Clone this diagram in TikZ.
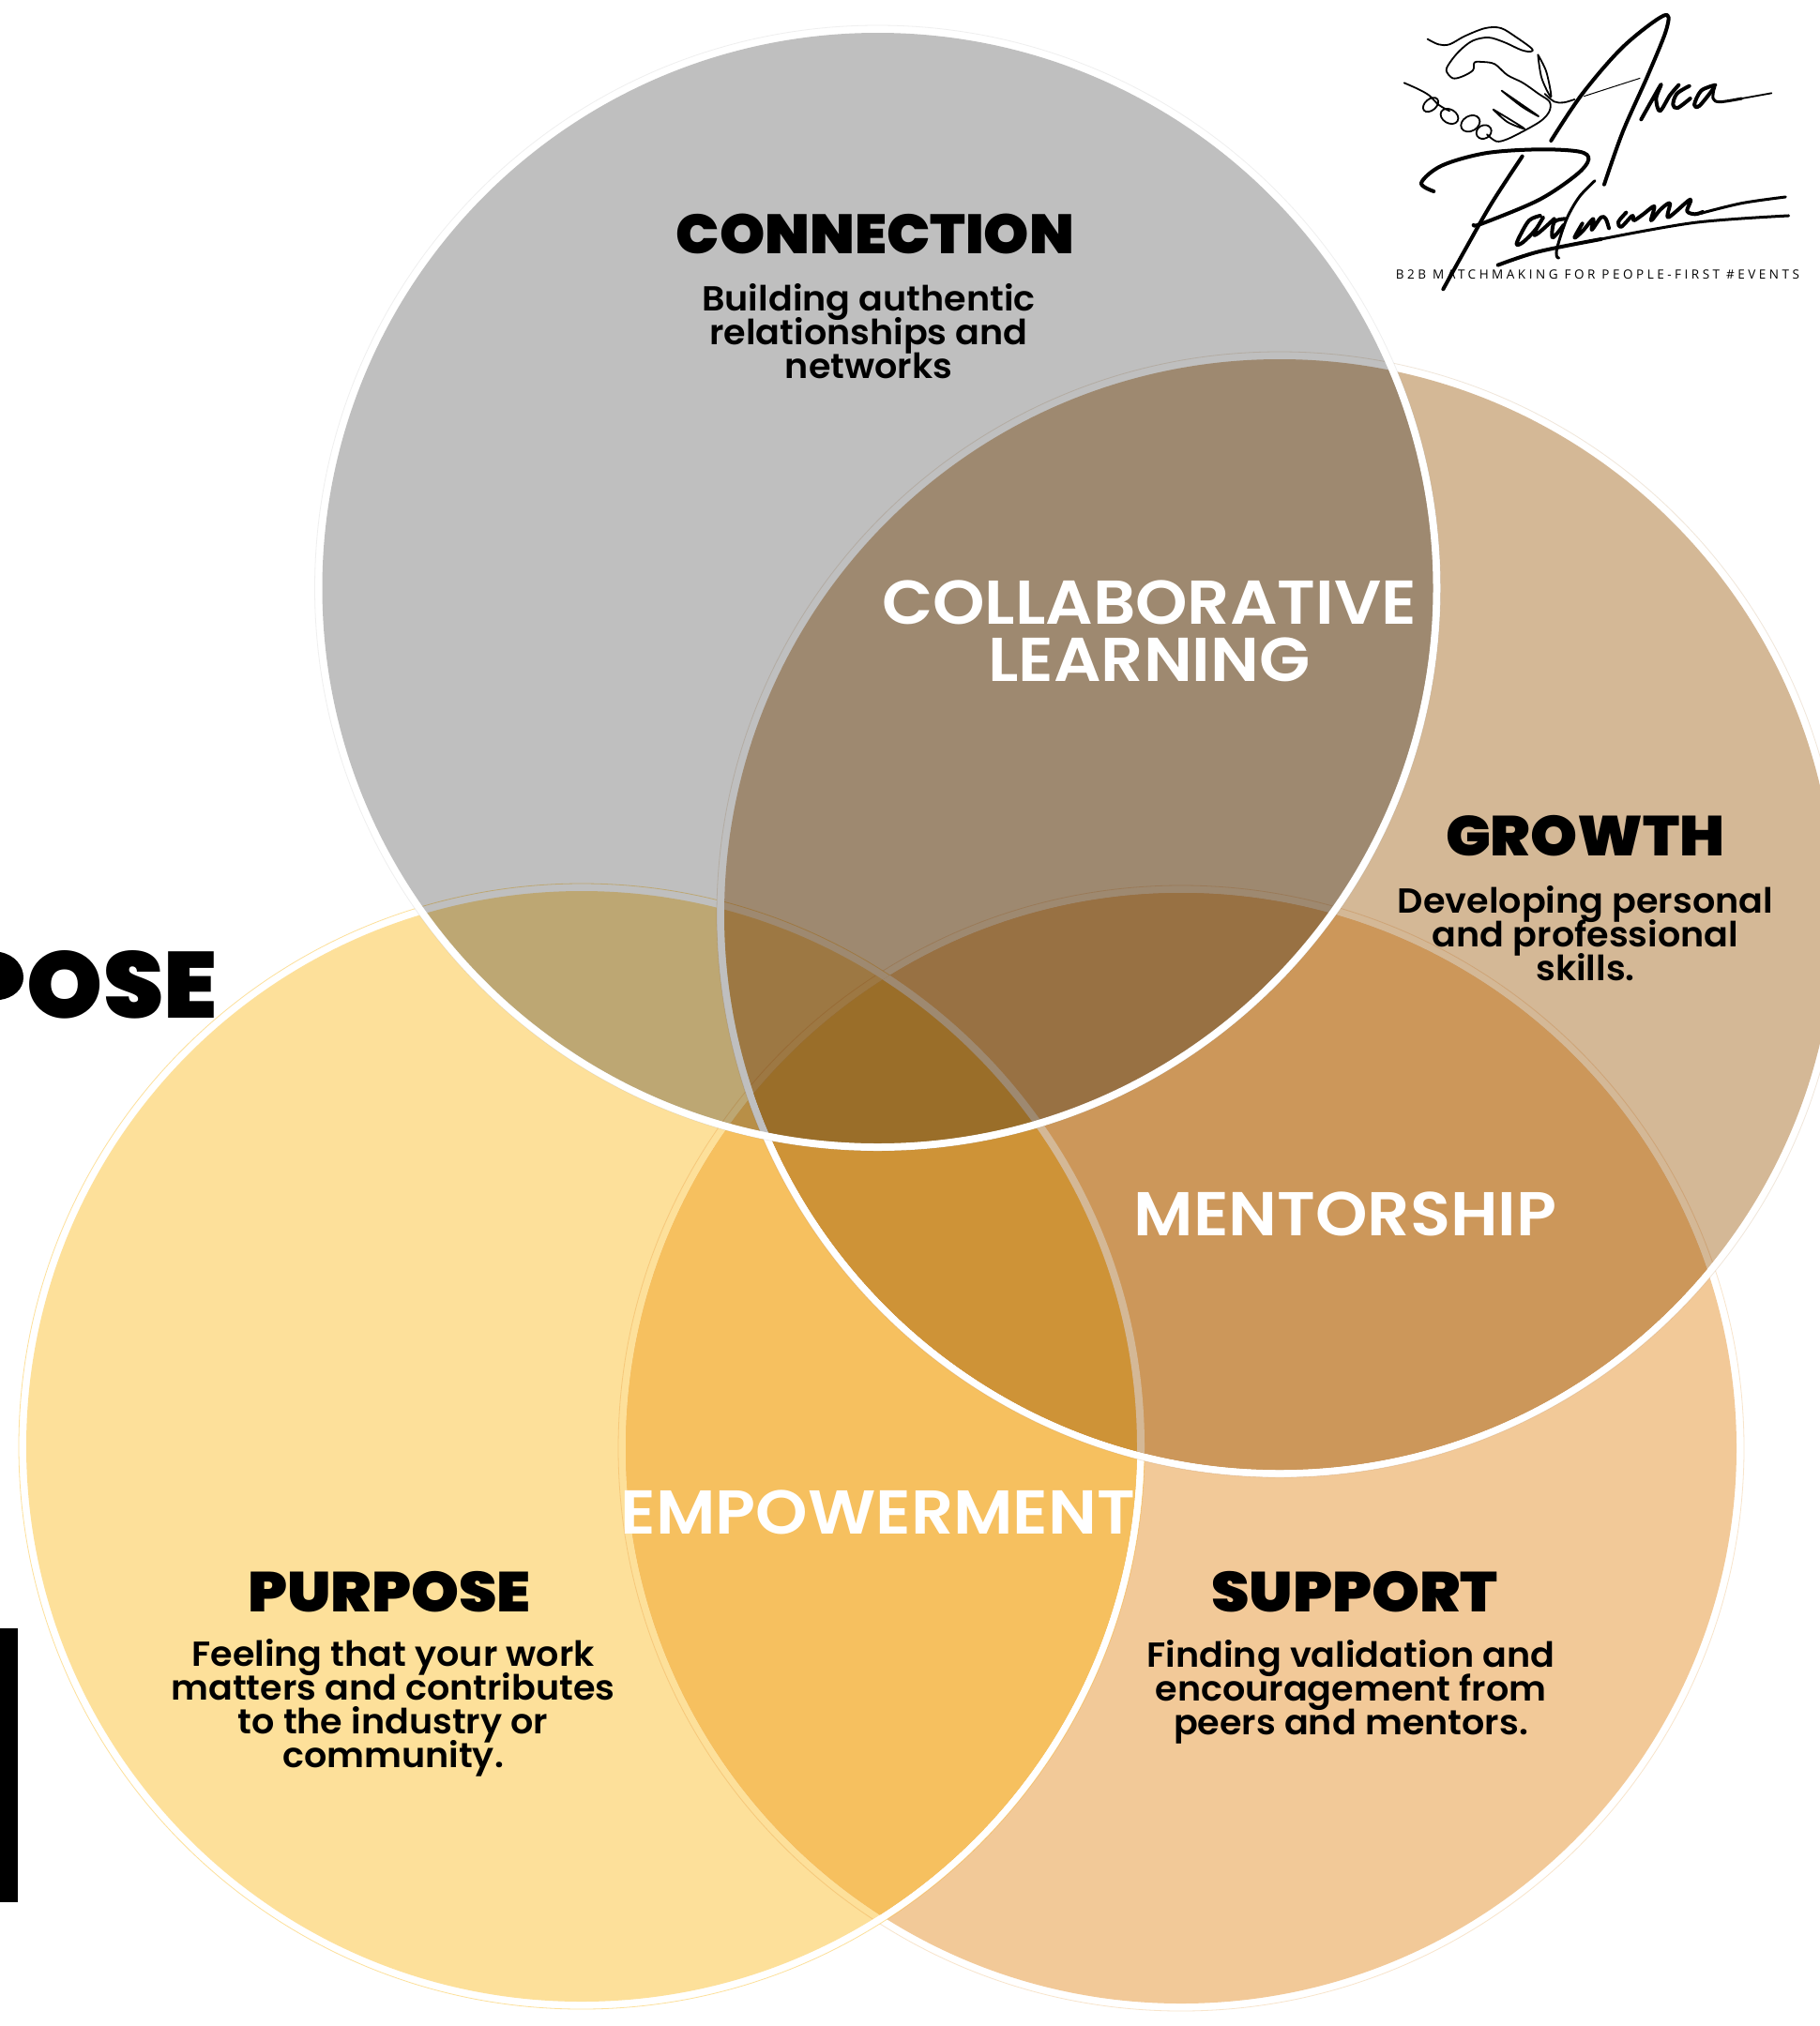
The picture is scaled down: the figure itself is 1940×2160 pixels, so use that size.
\documentclass[tikz,border=0pt]{standalone}
\usepackage{fontspec}
\setmainfont{Poppins}
\lineskiplimit=-50pt\relax
\newfontfamily\fblack[FakeStretch=1.03]{Poppins Black}
\newfontfamily\fblackn[FakeStretch=1.04]{Poppins Black}
\newfontfamily\fblackw[FakeStretch=1.06]{Poppins Black}
\newfontfamily\fblackx[FakeStretch=1.08]{Poppins Black}
\newfontfamily\fsemi[FakeStretch=1.03]{Poppins SemiBold}
\newfontfamily\fover[FakeStretch=1.07]{Poppins SemiBold}
\newfontfamily\ftag[LetterSpace=26]{Open Sans}
\definecolor{cgray}{HTML}{BFBFBF}
\definecolor{ctan}{HTML}{D4B896}
\definecolor{cyel}{HTML}{FDE09A}
\definecolor{corg}{HTML}{F2C998}
\definecolor{cmix}{HTML}{F6C05F}
\definecolor{cmixb}{HTML}{CC975A}
\definecolor{cmixc}{HTML}{CE9337}
\tikzset{
 ringline/.style={white,line width=8pt},
 thinline/.style={line width=.8pt,blend mode=multiply},
 discfill/.style={blend mode=multiply},
 headtxt/.style={font=\fblackw\fontsize{60}{60}\selectfont,text=black,inner sep=0pt,align=center},
 bodytxt/.style={font=\fsemi\fontsize{37}{36}\selectfont,text=black,inner sep=0pt,align=center},
 overtxt/.style={font=\fover\fontsize{66}{61}\selectfont,text=white,inner sep=0pt,align=center},
 sigthick/.style={line width=4pt,line cap=round,line join=round,black},
 sigmid/.style={line width=3pt,line cap=round,line join=round,black},
 sigthin/.style={line width=1.8pt,line cap=round,line join=round,black},
}
\newcommand{\vdisc}[4]{%
 \draw[ringline] (#1,#2) circle[radius=596];
 \draw[thinline,draw=#4] (#1,#2) circle[radius=600];
 \fill[discfill,fill=#3] (#1,#2) circle[radius=592];
}
\newcommand{\sig}[2]{\draw[#1] plot[smooth,tension=.55] coordinates {#2};}
\begin{document}
\begin{tikzpicture}[x=1pt,y=-1pt]
\useasboundingbox (0,0) rectangle (1940,2160);
\fill[white] (0,0) rectangle (1940,2160);
\begin{scope}
\clip (0,0) rectangle (1940,2160);
\vdisc{1259}{1544}{corg}{corg!50}
\vdisc{620}{1542}{cyel}{cyel}
\begin{scope}
\clip (1259,1544) circle[radius=592];
\fill[cmix] (620,1542) circle[radius=592];
\end{scope}
\vdisc{1364}{975}{ctan}{ctan!35}
\begin{scope}
\clip (1259,1544) circle[radius=592];
\clip (1364,975) circle[radius=592];
\fill[cmixb] (600,300) rectangle (1940,1600);
\fill[cmixc] (620,1542) circle[radius=592];
\draw[ctan,line width=8pt] (620,1542) circle[radius=596];
\end{scope}
\vdisc{935.5}{627}{cgray}{cgray!25}
\fill[black] (0,1015) .. controls (16,1018) and (25,1030) .. (25,1042) .. controls (25,1055) and (14,1064) .. (0,1066) -- cycle;
\fill[black] (0,1736) rectangle (19,2028);
\end{scope}
\node[headtxt,anchor=east,font=\fblack\fontsize{100}{100}\selectfont] (pose) at (232,1050) {OSE};
\node[headtxt,font=\fblackn\fontsize{59}{60}\selectfont] (conn) at (933,249) {CONNECTION};
\node[bodytxt] (connb) at (926,353) {Building authentic\\relationships and\\networks};
\node[overtxt] (collab) at (1225,673) {COLLABORATIVE\\LEARNING};
\node[headtxt] (grow) at (1690,891) {GROWTH};
\node[bodytxt] (growb) at (1690,995) {Developing personal\\and professional\\skills.};
\node[overtxt] (ment) at (1434,1294) {MENTORSHIP};
\node[overtxt] (empo) at (936,1612) {EMPOWERMENT};
\node[headtxt,font=\fblackx\fontsize{60}{60}\selectfont] (purp) at (415,1697) {PURPOSE};
\node[bodytxt] (purpb) at (419,1821) {Feeling that your work\\matters and contributes\\to the industry or\\community.};
\node[headtxt,font=\fblackx\fontsize{60}{60}\selectfont] (supp) at (1444,1697) {SUPPORT};
\node[bodytxt] (suppb) at (1440,1804) {Finding validation and\\encouragement from\\peers and mentors.};
\node[inner sep=0pt,font=\ftag\fontsize{13.5}{15}\selectfont] (tag) at (1703,293) {B2B MATCHMAKING FOR PEOPLE-FIRST \#EVENTS};
% handshake
\begin{scope}[shift={(1490,20)},x=.3333pt,y=-.3333pt]
\sig{sigthin}{(95,65)(130,82)(165,82)(215,55)(280,30)(330,30)(380,60)(428,95)(425,105)(395,100)(340,75)(290,60)(240,70)(200,100)(170,135)(155,165)(175,190)(205,185)(240,165)(245,140)(270,138)(310,145)(350,180)(400,205)(450,240)(485,265)(485,295)(460,325)(410,355)(350,385)(315,392)(285,370)}
\sig{sigthin}{(20,205)(65,225)(100,245)(130,275)(165,295)}
\draw[sigthin,rotate around={40:(105,275)}] (105,275) ellipse[x radius=28,y radius=18];
\draw[sigthin,rotate around={-30:(165,312)}] (165,312) ellipse[x radius=30,y radius=22];
\draw[sigthin,rotate around={30:(232,335)}] (232,335) ellipse[x radius=32,y radius=24];
\draw[sigthin,rotate around={30:(275,362)}] (275,362) ellipse[x radius=25,y radius=21];
\sig{sigthin}{(332,230)(390,270)(450,312)(395,280)(332,230)}
\sig{sigthin}{(305,290)(355,320)(405,352)(350,330)(305,290)}
\sig{sigthin}{(448,115)(475,170)(490,250)(460,190)(448,115)}
\sig{sigthin}{(470,240)(500,265)(530,268)(565,258)}
\end{scope}
% Anca
\begin{scope}[shift={(1440,0)},x=.3333pt,y=-.3333pt]
\draw[line width=1pt,black] (745,308) -- (925,250);
\sig{sigthick}{(640,450)(740,300)(870,150)(1000,50)(1010,90)(950,240)(870,420)(810,590)}
\end{scope}
\begin{scope}[shift={(1730,70)},x=.3333pt,y=-.3333pt]
\sig{sigthick}{(58,172)(90,115)(122,60)(106,105)(118,145)(150,95)(178,62)}
\sig{sigthick}{(212,65)(172,90)(160,125)(175,135)(215,105)}
\sig{sigthick}{(295,62)(250,80)(228,125)(245,128)(292,70)}
\sig{sigmid}{(292,70)(288,105)(310,116)(380,105)}
\sig{sigthin}{(380,105)(475,88)}
\end{scope}
% Paduraru
\begin{scope}[shift={(1440,0)},x=.3333pt,y=-.3333pt]
\sig{sigthick}{(265,612)(225,585)(290,530)(430,490)(600,478)(730,485)(760,510)(720,560)(600,640)(420,715)(392,720)}
\sig{sigthick}{(548,500)(450,650)(370,790)(295,925)}
\sig{sigmid}{(1120,682)(1250,650)(1390,630)}
\sig{sigthick}{(470,848)(600,805)(800,765)}
\sig{sigmid}{(800,765)(1100,712)(1400,690)}
\end{scope}
\begin{scope}[shift={(1600,190)},x=.3333pt,y=-.3333pt]
\sig{sigthick}{(125,120)(90,135)(60,185)(50,212)(70,205)(110,165)(135,125)(105,178)(120,175)(170,130)}
\sig{sigmid}{(300,8)(250,60)(210,130)(180,220)(178,250)(185,255)}
\sig{sigthick}{(205,130)(170,140)(165,190)(200,150)}
\sig{sigthick}{(260,145)(235,190)(260,170)(295,130)(290,165)(320,125)(335,130)(345,160)}
\sig{sigthick}{(400,110)(375,140)(385,155)(420,120)(425,135)(455,115)(490,90)(480,135)(510,100)(540,80)(535,125)(605,68)(595,105)(620,115)(645,108)}
\end{scope}
\end{tikzpicture}
\end{document}
